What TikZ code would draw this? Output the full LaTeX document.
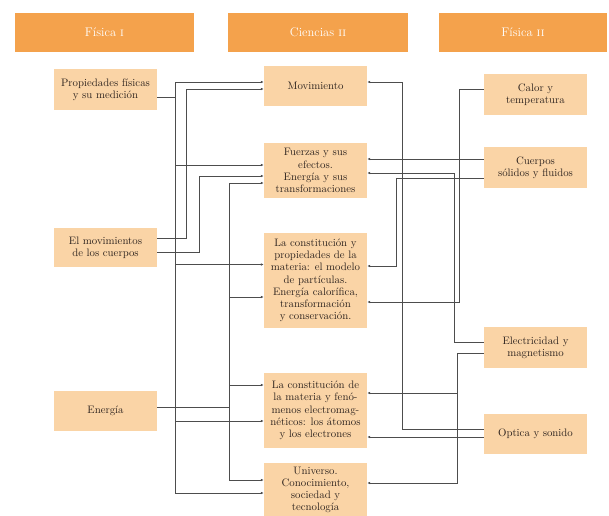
\documentclass[tikz,border=0pt]{standalone}
\usepackage{tikz}
\usetikzlibrary{arrows.meta}
\definecolor{mapbar}{HTML}{F4A24C}
\definecolor{mapbox}{HTML}{FAD4A6}
\definecolor{mapline}{HTML}{4D4D4D}
\definecolor{maptext}{HTML}{2E241F}
\tikzset{
  headbar/.style={
    rectangle,
    fill=mapbar,
    text=white,
    inner sep=0pt,
    minimum height=39pt,
    font=\fontsize{12.5}{14}\selectfont
  },
  unitbox/.style={
    rectangle,
    fill=mapbox,
    text=maptext,
    align=center,
    inner sep=0pt,
    minimum width=103pt,
    font=\fontsize{10.8}{12.2}\selectfont
  },
  linkline/.style={draw=mapline, line width=0.8pt},
  linkarrow/.style={linkline, -{Latex[length=3pt,width=2.6pt]}}
}
\begin{document}
\begin{tikzpicture}[x=1pt, y=-1pt]
\useasboundingbox (0,0) rectangle (609,515);
% column headers
\node[headbar, minimum width=179pt] (fis1) at (104.5,32.5) {Física \textsc{i}};
\node[headbar, minimum width=180pt] (cien) at (318,32.5) {Ciencias \textsc{ii}};
\node[headbar, minimum width=168pt] (fis2) at (523,32.5) {Física \textsc{ii}};
% Fisica I
\node[unitbox, minimum height=41pt] (prop) at (105.5,89.5) {Propiedades físicas\\y su medición};
\node[unitbox, minimum height=39pt] (movc) at (105.5,247.5) {El movimientos\\de los cuerpos};
\node[unitbox, minimum height=40pt] (energ) at (105.5,411) {Energía};
% Ciencias II
\node[unitbox, minimum height=40pt] (movi) at (315.5,86) {Movimiento};
\node[unitbox, minimum height=55pt] (fuer) at (315.5,170.5) {Fuerzas y sus\\efectos.\\Energía y sus\\transformaciones};
\node[unitbox, minimum height=95pt] (cprop) at (315.5,280.5) {La constitución y\\propiedades de la\\materia: el modelo\\de partículas.\\Energía calorífica,\\transformación\\y conservación.};
\node[unitbox, minimum height=75pt] (cmat) at (315.5,410.5) {La constitución de\\la materia y fenó-\\menos electromag-\\néticos: los átomos\\y los electrones};
\node[unitbox, minimum height=54pt] (univ) at (315.5,490) {Universo.\\Conocimiento,\\sociedad y\\tecnología};
% Fisica II
\node[unitbox, minimum height=41pt] (calor) at (535.5,94.5) {Calor y\\temperatura};
\node[unitbox, minimum height=41pt] (cuer) at (535.5,167.5) {Cuerpos\\sólidos y fluidos};
\node[unitbox, minimum height=41pt] (elec) at (535.5,347.5) {Electricidad y\\magnetismo};
\node[unitbox, minimum height=40pt] (opti) at (535.5,434) {Optica y sonido};
% left side links
\coordinate (propjoin) at ([xshift=18pt,yshift=-7.5pt]prop.east);
\draw[linkline] ([yshift=-7.5pt]prop.east) -- (propjoin);
\draw[linkarrow] (propjoin) |- ([yshift=4pt]movi.west);
\draw[linkarrow] (propjoin) |- ([yshift=5.5pt]fuer.west);
\draw[linkarrow] (propjoin) |- ([yshift=16pt]cprop.west);
\draw[linkarrow] (propjoin) |- ([yshift=-10.5pt]cmat.west);
\draw[linkarrow] (propjoin) |- ([yshift=-3pt]univ.west);
\draw[linkarrow] ([yshift=9.5pt]movc.east) -- ++(29,0) |- ([yshift=-3pt]movi.west);
\draw[linkarrow] ([yshift=-4.5pt]movc.east) -- ++(42,0) |- ([yshift=-5.5pt]fuer.west);
\coordinate (energjoin) at ([xshift=72pt,yshift=4pt]energ.east);
\draw[linkline] ([yshift=4pt]energ.east) -- (energjoin);
\draw[linkarrow] (energjoin) |- ([yshift=-12.5pt]fuer.west);
\draw[linkarrow] (energjoin) |- ([yshift=-16.5pt]cprop.west);
\draw[linkarrow] (energjoin) |- ([yshift=25.5pt]cmat.west);
\draw[linkarrow] (energjoin) |- ([yshift=10pt]univ.west);
% right side links
\draw[linkarrow] ([yshift=5.5pt]calor.west) -- ++(-24,0) |- ([yshift=-21.5pt]cprop.east);
\draw[linkarrow] ([yshift=8.5pt]cuer.west) -- ([yshift=11.5pt]fuer.east);
\draw[linkarrow] ([yshift=-10.5pt]cuer.west) -- ++(-87,0) |- ([yshift=14.5pt]cprop.east);
\draw[linkarrow] ([yshift=5.5pt]elec.west) -- ++(-29,0) |- ([yshift=-2.5pt]fuer.east);
\coordinate (elecjoin) at ([xshift=-26pt,yshift=-5.5pt]elec.west);
\draw[linkline] ([yshift=-5.5pt]elec.west) -- (elecjoin);
\draw[linkarrow] (elecjoin) |- ([yshift=17.5pt]cmat.east);
\draw[linkarrow] (elecjoin) |- ([yshift=7pt]univ.east);
\draw[linkarrow] ([yshift=5pt]opti.west) -- ++(-81,0) |- ([yshift=4pt]movi.east);
\draw[linkarrow] ([yshift=-3pt]opti.west) -- ([yshift=-26.5pt]cmat.east);
\end{tikzpicture}
\end{document}
